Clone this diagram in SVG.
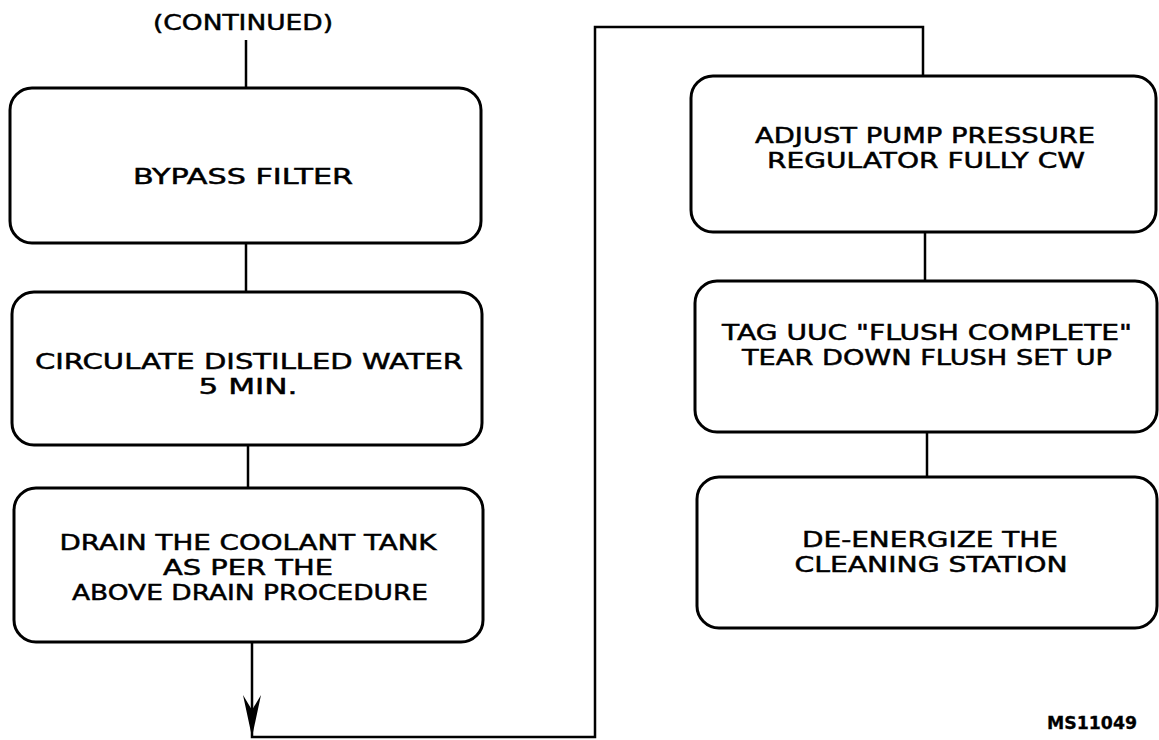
<svg xmlns="http://www.w3.org/2000/svg" width="1159" height="740" viewBox="0 0 1159 740">
<style>
.box{fill:none;stroke:#000;stroke-width:3}
.ln{fill:none;stroke:#000;stroke-width:2.5}
text{font-family:"DejaVu Sans","Liberation Sans",sans-serif;font-size:22px;fill:#000;stroke:#000;stroke-width:0.5;text-anchor:middle}
.id{font-weight:bold;font-size:17px;stroke-width:0.3}
</style>
<rect width="1159" height="740" fill="#fff"/>
<text id="continued" x="243" y="30" textLength="180" lengthAdjust="spacingAndGlyphs">(CONTINUED)</text>
<g id="connectors">
<path class="ln" d="M246 40 V88"/>
<path class="ln" d="M246 243 V292"/>
<path class="ln" d="M248 445 V488"/>
<path class="ln" d="M252 642 V737 H595 V27 H923 V76"/>
<polygon points="252,737 243,695 252,710 261,695" fill="#000"/>
<path class="ln" d="M925 232 V281"/>
<path class="ln" d="M927 432 V477"/>
</g>
<g id="n1">
<rect class="box" x="10" y="88" width="471" height="155" rx="22"/>
<text x="243" y="184" textLength="220" lengthAdjust="spacingAndGlyphs">BYPASS FILTER</text>
</g>
<g id="n2">
<rect class="box" x="12" y="292" width="470" height="153" rx="22"/>
<text x="249" y="369" textLength="428" lengthAdjust="spacingAndGlyphs">CIRCULATE DISTILLED WATER</text>
<text x="248" y="394" textLength="99" lengthAdjust="spacingAndGlyphs">5 MIN.</text>
</g>
<g id="n3">
<rect class="box" x="14" y="488" width="469" height="154" rx="22"/>
<text x="248" y="550" textLength="377" lengthAdjust="spacingAndGlyphs">DRAIN THE COOLANT TANK</text>
<text x="248" y="575" textLength="170" lengthAdjust="spacingAndGlyphs">AS PER THE</text>
<text x="250" y="600" textLength="356" lengthAdjust="spacingAndGlyphs">ABOVE DRAIN PROCEDURE</text>
</g>
<g id="n4">
<rect class="box" x="691" y="76" width="465" height="156" rx="22"/>
<text x="925" y="143" textLength="340" lengthAdjust="spacingAndGlyphs">ADJUST PUMP PRESSURE</text>
<text x="926" y="168" textLength="318" lengthAdjust="spacingAndGlyphs">REGULATOR FULLY CW</text>
</g>
<g id="n5">
<rect class="box" x="695" y="281" width="462" height="151" rx="22"/>
<text x="927" y="340" textLength="410" lengthAdjust="spacingAndGlyphs">TAG UUC "FLUSH COMPLETE"</text>
<text x="927" y="365" textLength="370" lengthAdjust="spacingAndGlyphs">TEAR DOWN FLUSH SET UP</text>
</g>
<g id="n6">
<rect class="box" x="697" y="477" width="460" height="151" rx="22"/>
<text x="930" y="547" textLength="256" lengthAdjust="spacingAndGlyphs">DE-ENERGIZE THE</text>
<text x="931" y="572" textLength="273" lengthAdjust="spacingAndGlyphs">CLEANING STATION</text>
</g>
<text class="id" x="1092" y="729" textLength="90" lengthAdjust="spacingAndGlyphs">MS11049</text>
</svg>
